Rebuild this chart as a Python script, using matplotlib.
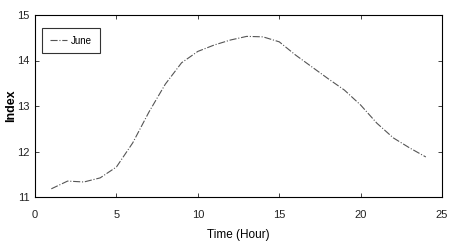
import matplotlib
matplotlib.use("Agg")
import matplotlib.pyplot as plt

hours = list(range(1, 25))
june = [11.18, 11.35, 11.33, 11.42, 11.66, 12.19, 12.87, 13.48, 13.95, 14.2,
        14.34, 14.45, 14.53, 14.52, 14.41, 14.12, 13.86, 13.6, 13.35, 13.02,
        12.62, 12.3, 12.08, 11.88]
xticks = [0, 5, 10, 15, 20, 25]
yticks = [11, 12, 13, 14, 15]

plt.rcParams['font.family'] = ['Liberation Sans', 'DejaVu Sans']
fig = plt.figure(figsize=(4.61, 2.5), dpi=100)
ax = fig.add_axes([0.076, 0.212, 0.883, 0.728])
ax.plot(hours, june, linestyle='-.', color='#555555', linewidth=0.8, label='June')
ax.set_xlim(0, 25)
ax.set_ylim(11, 15)
ax.set_xticks(xticks)
ax.set_yticks(yticks)
ax.tick_params(direction='in', top=True, right=True, labelsize=8, length=3, width=0.6,
               colors='#222222')
ax.tick_params(axis='x', pad=9)
ax.tick_params(axis='y', pad=4)
for s in ax.spines.values():
    s.set_linewidth(0.8)
ax.set_xlabel('Time (Hour)', fontsize=8.5, labelpad=7)
ax.set_ylabel('Index', fontsize=9, fontweight='bold')
ax.yaxis.set_label_coords(-0.045, 0.5)
leg = ax.legend(loc='upper left', fontsize=7, fancybox=False, edgecolor='black',
                handlelength=1.8, handletextpad=0.4, borderpad=0.8,
                bbox_to_anchor=(0.017, 0.929), borderaxespad=0)
leg.get_frame().set_linewidth(0.8)
fig.savefig('out.png', dpi=100)
